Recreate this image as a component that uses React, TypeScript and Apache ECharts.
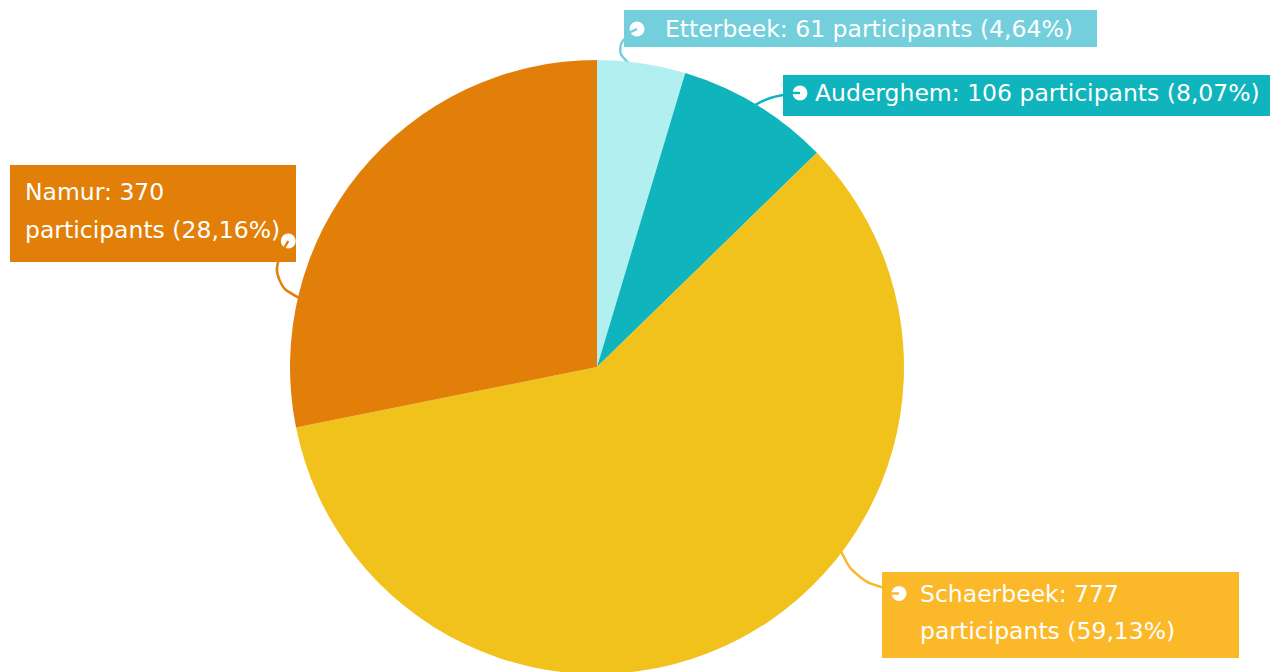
import React, { useEffect, useRef } from 'react';
import * as echarts from 'echarts';

const categories = ['Etterbeek', 'Auderghem', 'Schaerbeek', 'Namur'];
const participants = [61, 106, 777, 370];
const sliceColors = ['#b2eff0', '#10b4bc', '#f2c21c', '#e27f08'];
const labelColors = ['#74cfdc', '#10b4bc', '#fbb829', '#e27f08'];

const FONT = '"DejaVu Sans", sans-serif';
const FONT_SIZE = 23.5;
const FONT_WEIGHT = 'normal';
const CENTER = [597, 367];
const RADIUS = 307;

// label box layout (position of boxes, icons and guide lines)
const LABELS = [
  { x: 624, y: 10, icon: [13, 19], start: 6, startR: 305, bend: 3, bendR: 320, notch: 155,
    padding: [5, 0, 4, 5], width: 468, lineHeight: 28, gap: 20, wrap: false, iconLast: false },
  { x: 783, y: 75, icon: [17, 18], start: 31, startR: 305, bend: 32.6, bendR: 321, notch: 180,
    padding: [4, 0, 9, 9], width: 478, lineHeight: 28, gap: 7, wrap: false, iconLast: false },
  { x: 882, y: 572, icon: [17, 20], start: 127, startR: 305, bend: 129.5, bendR: 335, notch: 180,
    padding: [3, 0, 9, 9], width: 348, lineHeight: 37, gap: 13, wrap: true, iconLast: false },
  { x: 10, y: 165, icon: [272, 80], start: 283, startR: 305, bend: 284.5, bendR: 335, notch: 120,
    padding: [8, 0, 13, 15], width: 271, lineHeight: 38, gap: 0, wrap: true, iconLast: true },
];

function iconUrl(bg: string, notchDeg: number) {
  const a = (notchDeg * Math.PI) / 180;
  const x2 = 8 + 8 * Math.cos(a);
  const y2 = 8 + 8 * Math.sin(a);
  const svg = `<svg xmlns="http://www.w3.org/2000/svg" width="16" height="16" viewBox="0 0 16 16"><circle cx="8" cy="8" r="7.5" fill="#ffffff"/><line x1="8" y1="8" x2="${x2.toFixed(2)}" y2="${y2.toFixed(2)}" stroke="${bg}" stroke-width="2.4"/></svg>`;
  return 'data:image/svg+xml;charset=utf-8,' + encodeURIComponent(svg);
}

function polar(angleDeg: number, r: number) {
  const a = (angleDeg * Math.PI) / 180;
  return [CENTER[0] + r * Math.sin(a), CENTER[1] - r * Math.cos(a)];
}

export default function App() {
  const ref = useRef<HTMLDivElement>(null);
  useEffect(() => {
    if (!ref.current) return;
    const chart = echarts.init(ref.current, undefined, { renderer: 'svg' });

    const data = categories.map((name, i) => {
      const L = LABELS[i];
      const bg = labelColors[i];
      return {
        name,
        value: participants[i],
        itemStyle: { color: sliceColors[i] },
        label: {
          show: true,
          backgroundColor: bg,
          padding: L.padding,
          width: L.width,
          overflow: 'none',
          lineHeight: L.lineHeight,
          color: '#ffffff',
          fontFamily: FONT,
          fontSize: FONT_SIZE,
          fontWeight: FONT_WEIGHT,
          formatter: (p: any) => {
            const pct = Number(p.percent).toFixed(2).replace('.', ',');
            const head = `${p.name}: ${p.value}`;
            const tail = `participants (${pct}%)`;
            if (!L.wrap) return `{icon|}{g|}{t|${head} ${tail}}`;
            if (L.iconLast) return `{t|${head}}\n{t|${tail}}{icon|}`;
            return `{icon|}{g|}{t|${head}}\n{s|}{t|${tail}}`;
          },
          rich: {
            t: { color: '#ffffff', fontFamily: FONT, fontSize: FONT_SIZE, fontWeight: FONT_WEIGHT, lineHeight: L.lineHeight },
            icon: {
              width: 16,
              height: 16,
              verticalAlign: L.iconLast ? 'bottom' : 'middle',
              backgroundColor: { image: iconUrl(bg, L.notch) },
            },
            g: { width: L.gap, height: 10 },
            s: { width: 16 + L.gap, height: 10 },
          },
        },
        labelLine: {
          show: true,
          smooth: 0.4,
          lineStyle: { color: bg, width: 2.5 },
        },
      };
    });

    chart.setOption({
      animation: false,
      series: [
        {
          type: 'pie',
          center: CENTER,
          radius: RADIUS,
          startAngle: 90,
          clockwise: true,
          avoidLabelOverlap: false,
          label: { position: 'outside' },
          emphasis: { disabled: true },
          data,
          labelLayout: (params: any) => {
            const L = LABELS[params.dataIndex];
            const p0 = polar(L.start, L.startR);
            const p1 = polar(L.bend, L.bendR);
            const p2 = [L.x + L.icon[0], L.y + L.icon[1]];
            return {
              x: L.x,
              y: L.y,
              align: 'left',
              verticalAlign: 'top',
              labelLinePoints: [p0, p1, p2],
            };
          },
        },
      ],
    });
    return () => chart.dispose();
  }, []);
  return (
    <div
      ref={ref}
      style={{ position: 'absolute', left: 0, top: 0, width: 1272, height: 672, background: '#ffffff' }}
    />
  );
}
